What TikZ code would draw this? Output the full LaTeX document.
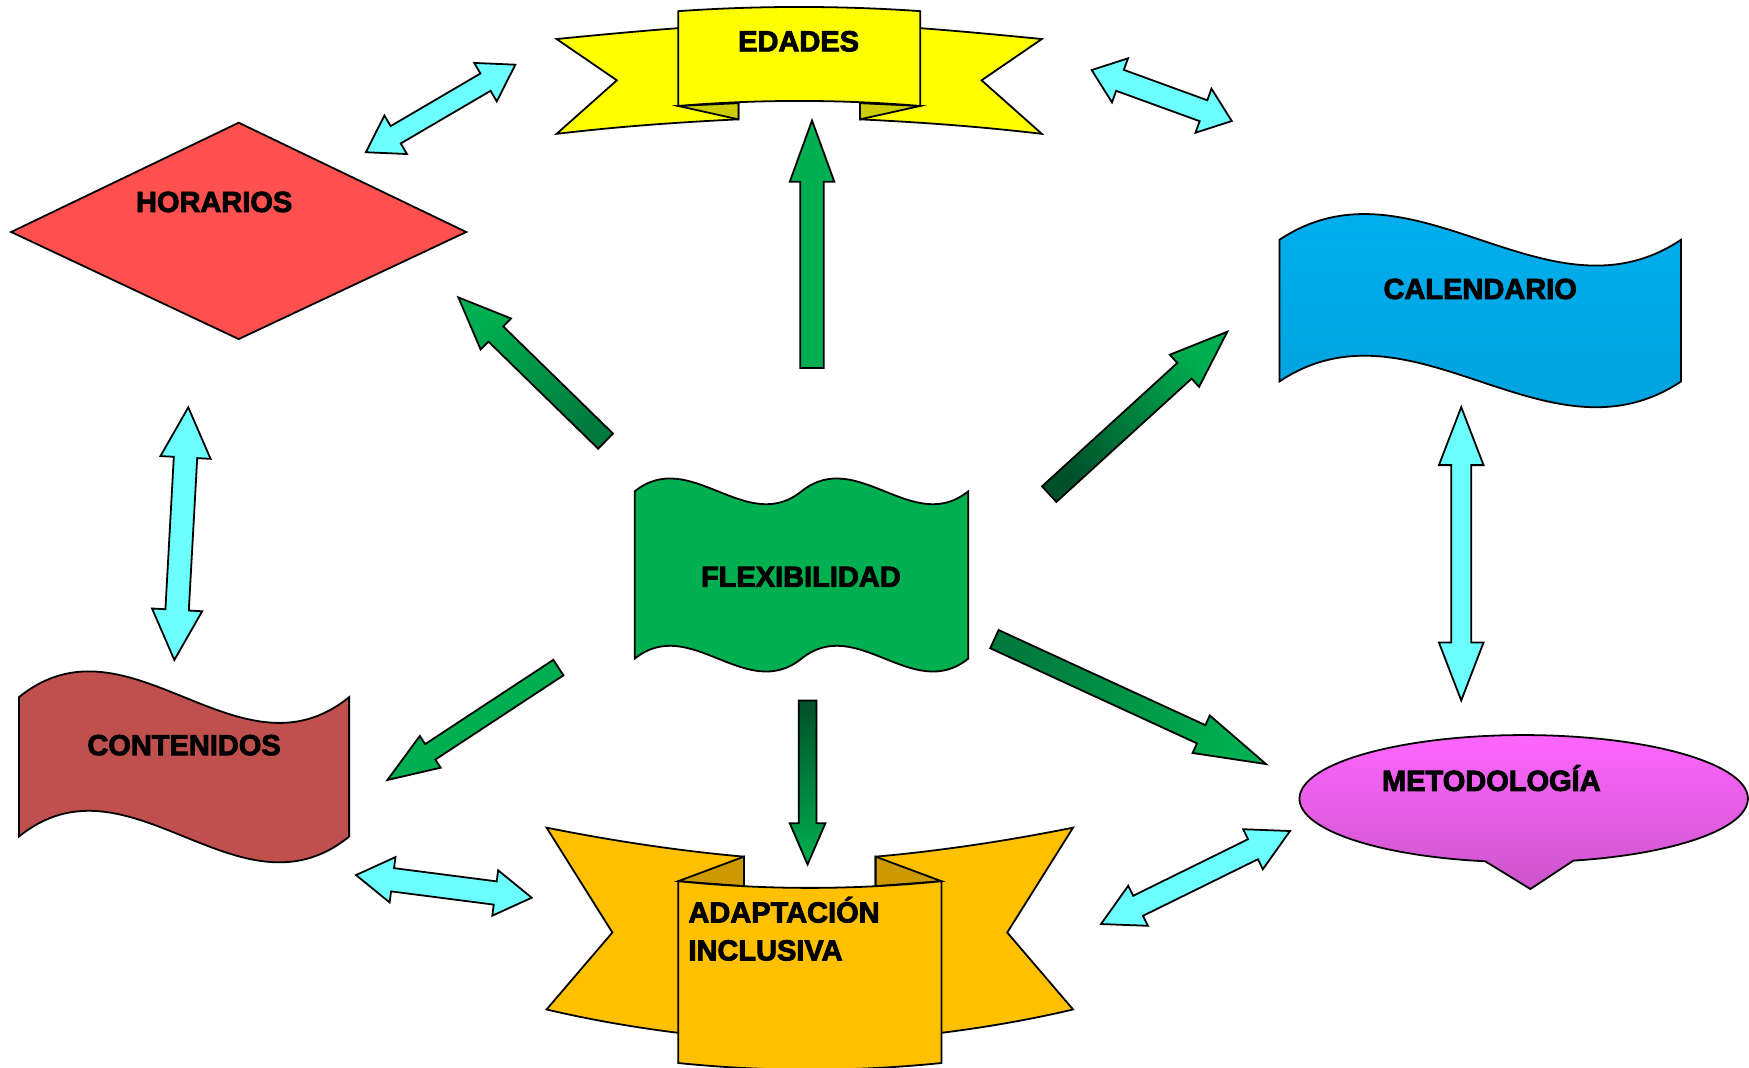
\documentclass[tikz,border=0pt]{standalone}
\usepackage{fontspec}
\usetikzlibrary{calc}
\newfontfamily\lab{Liberation Sans}[FakeBold=3]

\definecolor{edyellow}{HTML}{FFFF00}
\definecolor{edfold}{HTML}{CCCC00}
\definecolor{horred}{HTML}{FF5050}
\definecolor{calblue}{HTML}{00B2F2}
\definecolor{calblue2}{HTML}{00A0DA}
\definecolor{flexgreen}{HTML}{00B050}
\definecolor{contred}{HTML}{C0504D}
\definecolor{metpink}{HTML}{FF66FF}
\definecolor{metpink2}{HTML}{CC55CC}
\definecolor{adaorange}{HTML}{FFC000}
\definecolor{adafold}{HTML}{CC9A00}
\definecolor{linkcyan}{HTML}{6CFFFF}
\definecolor{arrgreen}{HTML}{00B050}
\definecolor{arrmid}{HTML}{007A3D}
\definecolor{arrdark}{HTML}{00502A}

% block arrow: #1 style, #2 tail, #3 tip, #4 shaft half width, #5 head half width, #6 head length
\newcommand\blkarrow[6]{%
  \path[#1] ($(#2)!#4!90:(#3)$)
    -- ($(#3)!#6!(#2)!#4!-90:(#2)$) -- ($(#3)!#6!(#2)!#5!-90:(#2)$)
    -- (#3)
    -- ($(#3)!#6!(#2)!#5!90:(#2)$) -- ($(#3)!#6!(#2)!#4!90:(#2)$)
    -- ($(#2)!#4!-90:(#3)$) -- cycle;}
% double block arrow between #2 and #3
\newcommand\dblkarrow[6]{%
  \path[#1] (#2)
    -- ($(#2)!#6!(#3)!#5!90:(#3)$) -- ($(#2)!#6!(#3)!#4!90:(#3)$)
    -- ($(#3)!#6!(#2)!#4!-90:(#2)$) -- ($(#3)!#6!(#2)!#5!-90:(#2)$)
    -- (#3)
    -- ($(#3)!#6!(#2)!#5!90:(#2)$) -- ($(#3)!#6!(#2)!#4!90:(#2)$)
    -- ($(#2)!#6!(#3)!#4!-90:(#3)$) -- ($(#2)!#6!(#3)!#5!-90:(#3)$)
    -- cycle;}

\begin{document}
\begin{tikzpicture}[x=1pt,y=-1pt,
  outline/.style={draw=black, line width=1.6pt},
  lbl/.style={font=\lab\bfseries\fontsize{26}{30}\selectfont, inner sep=0pt, anchor=base},
  link/.style={outline, fill=linkcyan},
  push/.style 2 args={outline, top color=arrgreen, bottom color=#2, shading angle=#1}]

\useasboundingbox (0,0) rectangle (1568,957);
\clip (0,0) rectangle (1568,957);

% ---- EDADES banner ----
\path[outline, fill=edyellow] (499,35) .. controls (560,29) and (615,24) .. (662,22)
  -- (662,107) .. controls (600,110) and (550,114) .. (499,120) -- (553,72) -- cycle;
\path[outline, fill=edyellow] (934,35) .. controls (873,29) and (818,24) .. (771,22)
  -- (771,107) .. controls (833,110) and (883,114) .. (934,120) -- (880,72) -- cycle;
\path[outline, fill=edfold] (608,95) -- (662,107) -- (662,92.5) -- cycle;
\path[outline, fill=edfold] (825,95) -- (771,107) -- (771,92.5) -- cycle;
\path[outline, fill=edyellow] (608,10) .. controls (680,5) and (753,5) .. (825,10)
  -- (825,95) .. controls (753,89) and (680,89) .. (608,95) -- cycle;
\node[lbl] (edades) at (716,46) {EDADES};

% ---- HORARIOS diamond ----
\path[outline, fill=horred] (214,110) -- (418,208) -- (214,304) -- (10,208) -- cycle;
\node[lbl] (horarios) at (192,190) {HORARIOS};

% ---- CALENDARIO wave ----
\path[outline, top color=calblue, bottom color=calblue2]
  (1147,215) .. controls (1267,135) and (1387,295) .. (1507,215)
  -- (1507,342) .. controls (1387,422) and (1267,262) .. (1147,342) -- cycle;
\node[lbl] (calendario) at (1327,268) {CALENDARIO};

% ---- FLEXIBILIDAD double wave ----
\path[outline, fill=flexgreen]
  (569,440.5) .. controls (618.8,400.5) and (668.7,480.5) .. (718.5,440.5)
  .. controls (768.3,400.5) and (818.2,480.5) .. (868,440.5)
  -- (868,590.5) .. controls (818.2,630.5) and (768.3,550.5) .. (718.5,590.5)
  .. controls (668.7,630.5) and (618.8,550.5) .. (569,590.5) -- cycle;
\node[lbl] (flex) at (718,526) {FLEXIBILIDAD};

% ---- CONTENIDOS wave ----
\path[outline, fill=contred]
  (17,625) .. controls (115.7,545) and (214.3,705) .. (313,625)
  -- (313,750) .. controls (214.3,830) and (115.7,670) .. (17,750) -- cycle;
\node[lbl] (contenidos) at (165,677) {CONTENIDOS};

% ---- METODOLOGIA callout ----
\path[outline, top color=metpink, bottom color=metpink2]
  (1366,716) ++(99.9:201 and 57)
  arc[start angle=99.9, end angle=437.2, x radius=201, y radius=57]
  -- (1372,797) -- cycle;
\node[lbl] (metodologia) at (1337,709) {METODOLOGÍA};

% ---- ADAPTACION INCLUSIVA banner ----
\path[outline, fill=adaorange] (490,742) .. controls (550,754) and (610,763) .. (667,768)
  -- (667,932) .. controls (605,927) and (545,918) .. (490,905) -- (549,836) -- cycle;
\path[outline, fill=adaorange] (962,742) .. controls (902,754) and (842,763) .. (785,768)
  -- (785,932) .. controls (847,927) and (907,918) .. (962,905) -- (903,836) -- cycle;
\path[outline, fill=adafold] (608,790) -- (667,768) -- (667,794.5) -- cycle;
\path[outline, fill=adafold] (844,790) -- (785,768) -- (785,794.5) -- cycle;
\path[outline, fill=adaorange] (608,790) .. controls (686.7,798) and (765.3,798) .. (844,790)
  -- (844,953) .. controls (765.3,961) and (686.7,961) .. (608,953) -- cycle;
\node[lbl, anchor=base west] (ada1) at (617,827) {ADAPTACIÓN};
\node[lbl, anchor=base west] (ada2) at (617,861) {INCLUSIVA};

% ---- arrow end points ----
\coordinate (fE0) at (728,330);     \coordinate (fE1) at (728,108);
\coordinate (fH0) at (542.9,395.5); \coordinate (fH1) at (410.9,266.6);
\coordinate (fC0) at (940.6,443);   \coordinate (fC1) at (1100.3,297.4);
\coordinate (fN0) at (500.6,598.5); \coordinate (fN1) at (347.3,699.3);
\coordinate (fM0) at (891.5,573);   \coordinate (fM1) at (1135,685);
\coordinate (fA0) at (724,628);     \coordinate (fA1) at (724,775);

\coordinate (hE0) at (328,136.5);   \coordinate (hE1) at (462,58);
\coordinate (eC0) at (978.7,62.8);  \coordinate (eC1) at (1104.3,108.5);
\coordinate (hN0) at (168.8,365.2); \coordinate (hN1) at (156.3,591.7);
\coordinate (cM0) at (1310,365);    \coordinate (cM1) at (1310,628);
\coordinate (nA0) at (319.2,784.5); \coordinate (nA1) at (476.7,804.8);
\coordinate (aM0) at (987.1,828.4); \coordinate (aM1) at (1156.5,745);

% ---- green arrows from FLEXIBILIDAD ----
\blkarrow{outline, fill=arrgreen}{fE0}{fE1}{10.5pt}{20pt}{55pt}
\blkarrow{push={45.7}{arrmid}}{fH0}{fH1}{9.5pt}{19.5pt}{47pt}
\blkarrow{push={-47.6}{arrdark}}{fC0}{fC1}{9.5pt}{19.5pt}{52pt}
\blkarrow{outline, fill=arrgreen}{fN0}{fN1}{8.3pt}{17pt}{46pt}
\blkarrow{push={-114.7}{arrmid}}{fM0}{fM1}{9pt}{18.5pt}{64pt}
\blkarrow{push={180}{arrdark}}{fA0}{fA1}{8pt}{16pt}{37pt}

% ---- cyan links between the outer shapes ----
\dblkarrow{link}{hE0}{hE1}{9pt}{20pt}{31pt}
\dblkarrow{link}{eC0}{eC1}{10pt}{21pt}{27pt}
\dblkarrow{link}{hN0}{hN1}{10.5pt}{22.5pt}{45pt}
\dblkarrow{link}{cM0}{cM1}{9pt}{20pt}{52pt}
\dblkarrow{link}{nA0}{nA1}{10.5pt}{20.5pt}{33pt}
\dblkarrow{link}{aM0}{aM1}{10pt}{20pt}{37pt}

\end{tikzpicture}
\end{document}
